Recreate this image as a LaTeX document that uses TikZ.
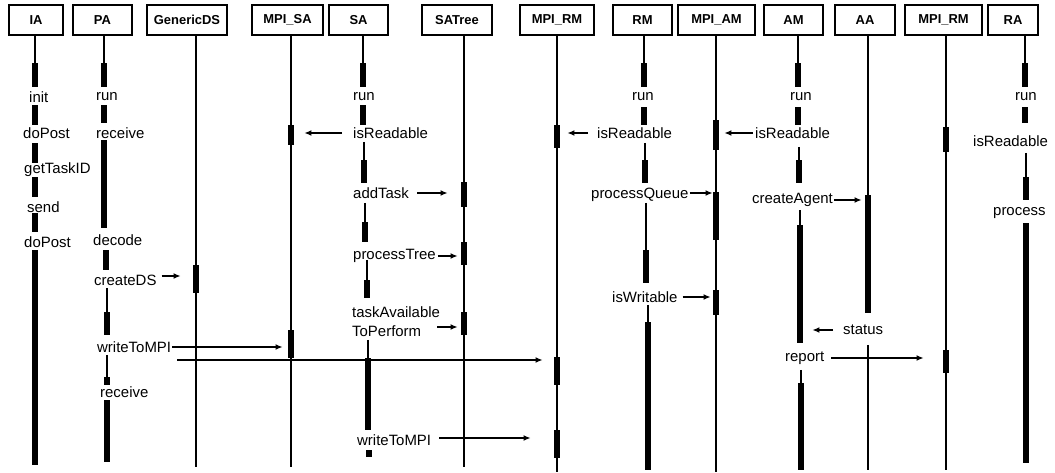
\documentclass[tikz,border=0pt]{standalone}
\usepackage{fontspec}
\setmainfont{Liberation Sans}
\usetikzlibrary{arrows.meta}
\tikzset{
  hdr/.style={draw, line width=1.4bp, minimum height=30bp, inner sep=0pt,
    font=\bfseries\fontsize{13}{13}\selectfont},
  life/.style={line width=1.1bp},
  abar/.style={fill=black, draw=none, minimum width=6.5bp, inner sep=0pt},
  lbl/.style={font=\fontsize{15}{19}\selectfont, inner sep=0pt, anchor=west, align=left},
  msg/.style={line width=1.3bp, -{Latex[length=7bp,width=6bp]}}
}
\newcommand\abar[4]{\node[abar, minimum height={(#4-#3)*1bp}] (#1) at (#2,{(#3+#4)/2}) {};}
\begin{document}
\begin{tikzpicture}[x=1bp,y=-1bp]
\useasboundingbox (0,0) rectangle (1055,473);
% headers
\node[hdr, minimum width=54bp] (hIA) at (36,20) {IA};
\node[hdr, minimum width=59bp] (hPA) at (102.5,20) {PA};
\node[hdr, minimum width=80bp] (hGDS) at (187,20) {GenericDS};
\node[hdr, minimum width=71bp] (hMSA) at (287.5,20) {MPI\_SA};
\node[hdr, minimum width=59bp] (hSA) at (358.5,20) {SA};
\node[hdr, minimum width=70bp] (hSAT) at (457,20) {SATree};
\node[hdr, minimum width=74bp] (hMRM) at (557,20) {MPI\_RM};
\node[hdr, minimum width=59bp] (hRM) at (642.5,20) {RM};
\node[hdr, minimum width=77bp] (hMAM) at (716.5,20) {MPI\_AM};
\node[hdr, minimum width=59bp] (hAM) at (793.5,20) {AM};
\node[hdr, minimum width=60bp] (hAA) at (865,20) {AA};
\node[hdr, minimum width=77bp] (hMRR) at (943.5,20) {MPI\_RM};
\node[hdr, minimum width=50bp] (hRA) at (1013,20) {RA};
% passive lifeline ends
\coordinate (eGDS) at (196,467);
\coordinate (eMSA) at (291,467);
\coordinate (eSAT) at (464,467);
\coordinate (eMRM) at (557,472);
\coordinate (eMAM) at (716,472);
\coordinate (eMRR) at (946,470);
\coordinate (eAA) at (868,470);
\coordinate (sAA) at (868,345);
\draw[life] (hGDS.south -| eGDS) -- (eGDS);
\draw[life] (hMSA.south -| eMSA) -- (eMSA);
\draw[life] (hSAT.south -| eSAT) -- (eSAT);
\draw[life] (hMRM.south -| eMRM) -- (eMRM);
\draw[life] (hMAM.south -| eMAM) -- (eMAM);
\draw[life] (hMRR.south -| eMRR) -- (eMRR);
% bars on passive lifelines
\abar{g1}{196}{265}{293}
\abar{ms1}{291}{125}{145}
\abar{ms2}{291}{330}{358}
\abar{sat1}{464}{182}{207}
\abar{sat2}{464}{242}{265}
\abar{sat3}{464}{312}{335}
\abar{mr1}{557}{125}{148}
\abar{mr2}{557}{357}{385}
\abar{mr3}{557}{430}{458}
\abar{mam1}{716}{120}{150}
\abar{mam2}{716}{192}{240}
\abar{mam3}{716}{290}{315}
\abar{mrr1}{946}{127}{152}
\abar{mrr2}{946}{350}{373}
% AA
\abar{aa1}{868}{195}{313}
\draw[life] (hAA.south -| aa1) -- (aa1.north);
\draw[life] (sAA) -- (eAA);
% IA
\abar{i1}{35}{63}{87}
\abar{i2}{35}{105}{125}
\abar{i3}{35}{143}{163}
\abar{i4}{35}{177}{197}
\abar{i5}{35}{213}{232}
\abar{i6}{35}{250}{465}
\draw[life] (hIA.south -| i1) -- (i1.north);
\node[lbl] (lIAinit) at (29,97) {init};
\node[lbl] (lIApost1) at (23,133) {doPost};
\node[lbl] (lIAtask) at (24,170) {getTaskID};
\node[lbl] (lIAsend) at (27,207) {send};
\node[lbl] (lIApost2) at (24,242) {doPost};
% PA
\abar{p1}{104}{63}{87}
\abar{p2}{104}{105}{123}
\abar{p3}{104}{140}{228}
\abar{p4}{106}{250}{270}
\abar{p5}{107}{312}{335}
\abar{p6}{107}{377}{385}
\abar{p7}{107}{400}{462}
\draw[life] (hPA.south -| p1) -- (p1.north);
\node[lbl] (lPArun) at (96,97) {run};
\node[lbl] (lPArec1) at (96,133) {receive};
\node[lbl] (lPAdec) at (93,240) {decode};
\node[lbl] (lPAcds) at (94,280) {createDS};
\node[lbl] (lPAwr) at (97,347) {writeToMPI};
\node[lbl] (lPArec2) at (100,392) {receive};
\draw[life] (p5.north |- {(0,288)}) -- (p5.north);
\draw[life] (p6.north |- {(0,355)}) -- (p6.north);
\draw[msg] ([xshift=5bp,yshift=4bp]lPAcds.east) -- ([xshift=-12bp,yshift=4bp]g1.west |- lPAcds.east);
\draw[msg] ([xshift=1bp]lPAwr.east) -- ([xshift=-5bp]ms2.west |- lPAwr.east);
\coordinate (lstart) at (177,360);
\draw[msg] (lstart) -- ([xshift=-11bp]mr2.west |- lstart);
% SA
\abar{s1}{363}{63}{87}
\abar{s2}{363}{105}{125}
\abar{s3}{364}{160}{183}
\abar{s4}{365}{222}{242}
\abar{s5}{367}{280}{298}
\abar{s6}{368}{358}{430}
\abar{s7}{369}{450}{457}
\draw[life] (hSA.south -| s1) -- (s1.north);
\node[lbl] (lSArun) at (353,97) {run};
\node[lbl] (lSAread) at (353,133) {isReadable};
\node[lbl] (lSAadd) at (353,193) {addTask};
\node[lbl] (lSAproc) at (353,256) {processTree};
\node[lbl] (lSAtask) at (352,322) {taskAvailable\\ToPerform};
\node[lbl] (lSAwr) at (357,440) {writeToMPI};
\draw[life] (s3.north |- {(0,142)}) -- (s3.north);
\draw[life] (s4.north |- {(0,203)}) -- (s4.north);
\draw[life] (s5.north |- {(0,260)}) -- (s5.north);
\draw[life] (s6.north |- {(0,340)}) -- (s6.north);
\coordinate (tA) at (437,327);
\draw[msg] ([xshift=-11bp]lSAread.west) -- ([xshift=10bp]ms1.east |- lSAread.west);
\draw[msg] ([xshift=8bp]lSAadd.east) -- ([xshift=-13bp]sat1.west |- lSAadd.east);
\draw[msg] ([xshift=2bp]lSAproc.east) -- ([xshift=-3bp]sat2.west |- lSAproc.east);
\draw[msg] (tA) -- ([xshift=-3bp]sat3.west |- tA);
\draw[msg] ([xshift=8bp,yshift=2bp]lSAwr.east) -- ([xshift=-23bp,yshift=2bp]mr3.west |- lSAwr.east);
% RM
\abar{r1}{644}{63}{87}
\abar{r2}{644}{107}{125}
\abar{r3}{645}{160}{183}
\abar{r4}{646}{250}{283}
\abar{r5}{648}{322}{470}
\draw[life] (hRM.south -| r1) -- (r1.north);
\node[lbl] (lRMrun) at (632,97) {run};
\node[lbl] (lRMread) at (597,133) {isReadable};
\node[lbl] (lRMpq) at (591,195) {processQueue};
\node[lbl] (lRMwr) at (612,297) {isWritable};
\draw[life] (r3.north |- {(0,143)}) -- (r3.north);
\draw[life] (r4.north |- {(0,203)}) -- (r4.north);
\draw[life] (r5.north |- {(0,305)}) -- (r5.north);
\draw[msg] ([xshift=-9bp]lRMread.west) -- ([xshift=7bp]mr1.east |- lRMread.west);
\draw[msg] ([xshift=1bp,yshift=2bp]lRMpq.east) -- ([yshift=2bp]mam2.west |- lRMpq.east);
\draw[msg] ([xshift=5bp]lRMwr.east) -- ([xshift=-2bp]mam3.west |- lRMwr.east);
% AM
\abar{a1}{798}{63}{87}
\abar{a2}{798}{107}{125}
\abar{a3}{799}{160}{183}
\abar{a4}{800}{225}{343}
\abar{a5}{801}{383}{470}
\draw[life] (hAM.south -| a1) -- (a1.north);
\node[lbl] (lAMrun) at (790,97) {run};
\node[lbl] (lAMread) at (755,133) {isReadable};
\node[lbl] (lAMca) at (752,200) {createAgent};
\node[lbl] (lAMrep) at (785,358) {report};
\node[lbl] (lAAst) at (843,330) {status};
\draw[life] (a3.north |- {(0,147)}) -- (a3.north);
\draw[life] (a4.north |- {(0,210)}) -- (a4.north);
\draw[life] (a5.north |- {(0,370)}) -- (a5.north);
\draw[msg] ([xshift=-2bp]lAMread.west) -- ([xshift=5bp]mam1.east |- lAMread.west);
\draw[msg] ([xshift=1bp]lAMca.east) -- ([xshift=-3bp]aa1.west |- lAMca.east);
\draw[msg] ([xshift=7bp]lAMrep.east) -- ([xshift=-19bp]mrr2.west |- lAMrep.east);
\draw[msg] ([xshift=-10bp]lAAst.west) -- ([xshift=9bp]a4.east |- lAAst.west);
% RA
\abar{ra1}{1025}{63}{87}
\abar{ra2}{1025}{107}{123}
\abar{ra3}{1026}{177}{200}
\abar{ra4}{1026}{223}{463}
\draw[life] (hRA.south -| ra1) -- (ra1.north);
\node[lbl] (lRArun) at (1015,97) {run};
\node[lbl] (lRAread) at (973,141) {isReadable};
\node[lbl] (lRAproc) at (993,213) {process};
\draw[life] (ra3.north |- {(0,153)}) -- (ra3.north);
\end{tikzpicture}
\end{document}
